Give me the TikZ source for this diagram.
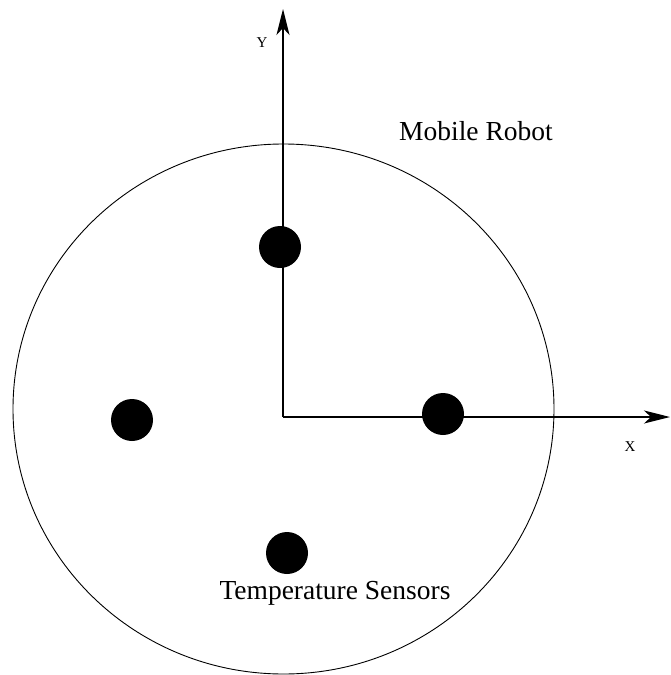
\documentclass[tikz,border=0pt]{standalone}
\usepackage{fontspec}
\setmainfont{Liberation Serif}
\usetikzlibrary{arrows.meta,positioning}

\begin{document}
\begin{tikzpicture}[
  x=1pt, y=-1pt,
  sensor/.style={circle, fill=black, minimum size=42pt, inner sep=0pt},
  axis/.style={draw, line width=1.5pt, -{Stealth[length=26pt, width=13pt, inset=7pt]}},
  axislabel/.style={font=\fontsize{15}{18}\selectfont, inner sep=0pt},
  caption/.style={font=\fontsize{27.5}{32}\selectfont, inner sep=0pt}
]
\useasboundingbox (0,0) rectangle (671,675);
% robot body
\draw[line width=0.9pt] (283.5,409) ellipse [x radius=270.5, y radius=265];
% axes
\coordinate (origin) at (283,417);
\coordinate (xend) at (670,417);
\coordinate (yend) at (283,9);
\draw[axis] (origin) -- (xend);
\draw[axis] (origin) -- (yend);
\node[axislabel] (xlabel) at (630,447) {X};
\node[axislabel] (ylabel) at (262,43) {Y};
% sensors
\node[sensor] (front) at (280,247) {};
\node[sensor] (left) at (132,420) {};
\node[sensor] (right) at (443,414) {};
\node[sensor] (back) at (287,553) {};
% labels
\node[caption] (robot) at (476,131) {Mobile Robot};
\node[caption] (sensors) at (335,593) {Temperature Sensors};
\end{tikzpicture}
\end{document}
